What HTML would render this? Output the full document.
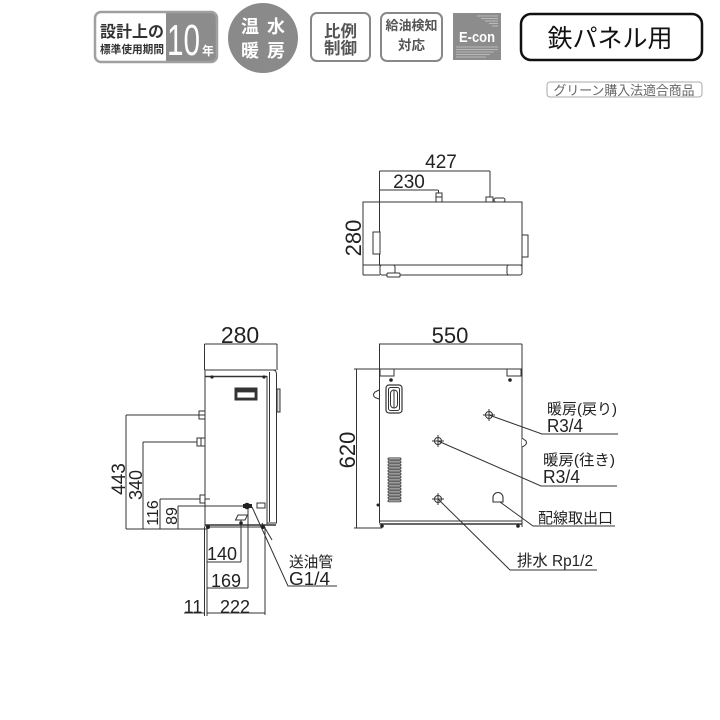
<!DOCTYPE html>
<html><head><meta charset="utf-8"><style>
html,body{margin:0;padding:0;background:#fff;}
svg{display:block;}
text{font-family:"Liberation Sans","Noto Sans CJK JP",sans-serif;}
</style></head><body>
<svg width="720" height="720" viewBox="0 0 720 720" xmlns="http://www.w3.org/2000/svg">
<defs>
<clipPath id="b1"><rect x="95" y="12" width="122" height="50" rx="6"/></clipPath>
</defs>
<rect width="720" height="720" fill="#fff"/>

<!-- ===== header badges ===== -->
<g clip-path="url(#b1)">
<rect x="95" y="12" width="122" height="50" fill="#fff"/>
<rect x="166" y="12" width="52" height="50" fill="#8c8c8c"/>
</g>
<rect x="95" y="12" width="122" height="50" rx="6" fill="none" stroke="#a0a0a0" stroke-width="2.5"/>
<text x="132" y="37" font-size="16" font-weight="bold" fill="#333" text-anchor="middle" textLength="64" lengthAdjust="spacingAndGlyphs">設計上の</text>
<text x="132" y="53" font-size="11" font-weight="bold" fill="#333" text-anchor="middle" textLength="64" lengthAdjust="spacingAndGlyphs">標準使用期間</text>
<text x="167" y="55" font-size="44" fill="#fff" textLength="33" lengthAdjust="spacingAndGlyphs">10</text>
<text x="202" y="55" font-size="12" fill="#fff" font-weight="bold">年</text>

<circle cx="263" cy="38" r="35" fill="#8a8a8a"/>
<text x="250" y="33" font-size="18" font-weight="bold" fill="#fff" text-anchor="middle">温</text>
<text x="276" y="33" font-size="18" font-weight="bold" fill="#fff" text-anchor="middle">水</text>
<text x="250" y="57" font-size="18" font-weight="bold" fill="#fff" text-anchor="middle">暖</text>
<text x="276" y="57" font-size="18" font-weight="bold" fill="#fff" text-anchor="middle">房</text>

<rect x="311" y="13" width="59" height="48" rx="6" fill="#fff" stroke="#888" stroke-width="2"/>
<text x="340.5" y="37" font-size="16.5" font-weight="bold" fill="#555" text-anchor="middle">比例</text>
<text x="340.5" y="54" font-size="16.5" font-weight="bold" fill="#555" text-anchor="middle">制御</text>

<rect x="381" y="13" width="61" height="48" rx="6" fill="#fff" stroke="#888" stroke-width="2"/>
<text x="411.5" y="30" font-size="13" font-weight="bold" fill="#555" text-anchor="middle" textLength="52" lengthAdjust="spacingAndGlyphs">給油検知</text>
<text x="411.5" y="50" font-size="13.5" font-weight="bold" fill="#555" text-anchor="middle">対応</text>

<rect x="453" y="13" width="48" height="47" fill="#8c8c8c"/>
<g stroke="#c9c9c9" stroke-width="0.8">
<line x1="477" y1="16" x2="498" y2="16"/><line x1="481" y1="18.5" x2="498" y2="18.5"/>
<line x1="485" y1="21" x2="498" y2="21"/><line x1="489" y1="23.5" x2="498" y2="23.5"/>
<line x1="492" y1="26" x2="498" y2="26"/>
<line x1="456" y1="47" x2="498" y2="47"/><line x1="456" y1="49.5" x2="498" y2="49.5"/>
<line x1="456" y1="52" x2="494" y2="52"/><line x1="456" y1="54.5" x2="490" y2="54.5"/>
<line x1="456" y1="57" x2="486" y2="57"/>
</g>
<text x="477" y="42" font-size="15" font-weight="bold" fill="#fff" text-anchor="middle" textLength="36" lengthAdjust="spacingAndGlyphs">E-con</text>

<rect x="521" y="14" width="181" height="46" rx="10" fill="#fff" stroke="#111" stroke-width="2.5"/>
<text x="610" y="47" font-size="25" fill="#111" text-anchor="middle">鉄パネル用</text>

<rect x="547" y="82" width="155" height="15" rx="3" fill="#fff" stroke="#aaa" stroke-width="1"/>
<text x="624" y="95" font-size="13" fill="#666" text-anchor="middle" textLength="141" lengthAdjust="spacingAndGlyphs">グリーン購入法適合商品</text>

<!-- ===== top view ===== -->
<g stroke="#333" stroke-width="1" fill="none">
<line x1="379.5" y1="171" x2="490" y2="171"/>
<line x1="379.5" y1="190" x2="438" y2="190"/>
<line x1="379.5" y1="171" x2="379.5" y2="265"/>
<line x1="490" y1="171" x2="490" y2="197"/>
<line x1="438.5" y1="190" x2="438.5" y2="207"/>
<rect x="363" y="202" width="159" height="63" fill="#fff"/>
<line x1="379.5" y1="202" x2="379.5" y2="265"/>
<line x1="363" y1="265" x2="363" y2="275"/>
<line x1="363" y1="275" x2="380" y2="275"/>
<rect x="373" y="232" width="7" height="22" fill="#fff"/>
<rect x="522" y="235" width="6" height="22" fill="#fff"/>
<path d="M380,265 L522,265 L522,269 Q522,275 516,275 L386,275 Q380,275 380,269 Z" fill="#fff"/>
<rect x="380" y="265" width="15" height="10" rx="2" fill="#fff"/>
<rect x="507" y="265" width="15" height="10" rx="2" fill="#fff"/>
<rect x="387" y="273" width="13" height="4" rx="1" fill="#fff"/>
<rect x="436" y="193" width="6" height="9" fill="#fff"/>
<line x1="436" y1="197" x2="442" y2="197"/>
<rect x="486" y="197" width="7" height="5" fill="#fff"/>
<rect x="494" y="198" width="11" height="4" rx="2" fill="#fff"/>
</g>
<text x="441" y="168" font-size="19" fill="#222" text-anchor="middle">427</text>
<text x="409" y="188" font-size="19" fill="#222" text-anchor="middle">230</text>
<text transform="translate(361,238) rotate(-90)" font-size="22" fill="#222" text-anchor="middle">280</text>

<!-- ===== side view ===== -->
<g stroke="#333" stroke-width="1" fill="none">
<line x1="204.5" y1="344" x2="277" y2="344"/>
<line x1="204.5" y1="344" x2="204.5" y2="370"/>
<line x1="277" y1="344" x2="277" y2="370"/>
<line x1="205" y1="370" x2="276" y2="370"/>
<line x1="205" y1="376.5" x2="267" y2="376.5" stroke-width="1.6"/>
<line x1="205" y1="370" x2="205" y2="527"/>
<line x1="267" y1="376" x2="267" y2="524"/>
<path d="M267,370 L273,370 Q276.5,370 276.5,374 L276.5,523 L267,523"/>
<line x1="269.5" y1="372" x2="269.5" y2="522"/>
<rect x="277" y="389" width="3" height="23" fill="#ddd"/>
<line x1="205" y1="525" x2="276" y2="525" stroke-width="1.6"/>
<!-- handle -->
<rect x="235" y="388" width="22" height="12" fill="#333"/>
<rect x="237" y="392" width="18" height="6" fill="#fff" stroke-width="0.8"/>
<!-- left fittings -->
<rect x="199" y="411" width="6" height="8" fill="#fff"/>
<line x1="199" y1="415" x2="205" y2="415"/>
<rect x="197" y="438" width="8" height="8" fill="#fff"/>
<line x1="201" y1="438" x2="201" y2="446"/>
<rect x="200" y="495" width="5" height="8" fill="#fff"/>
<line x1="205" y1="499" x2="210" y2="499"/>
<!-- dim lines left -->
<line x1="126" y1="415" x2="199" y2="415"/>
<line x1="143" y1="442" x2="197" y2="442"/>
<line x1="160" y1="499" x2="200" y2="499"/>
<line x1="178" y1="506" x2="244" y2="506"/>
<line x1="126" y1="415" x2="126" y2="529"/>
<line x1="143" y1="442" x2="143" y2="529"/>
<line x1="160" y1="499" x2="160" y2="529"/>
<line x1="178" y1="506" x2="178" y2="529"/>
<line x1="126" y1="529" x2="207" y2="529"/>
<line x1="207" y1="527" x2="265" y2="527"/>
<!-- oil pipe -->
<rect x="257" y="503" width="8" height="5" fill="#fff"/>
<path d="M235.5,520 L238,515 L247.5,515 L245,520 Z" fill="#fff"/>
<!-- bottom dims -->
<line x1="204.5" y1="527" x2="204.5" y2="616"/>
<line x1="207" y1="527" x2="207" y2="616"/>
<line x1="241" y1="520" x2="241" y2="562"/>
<line x1="248" y1="508" x2="248" y2="588"/>
<line x1="265" y1="527" x2="265" y2="615"/>
<line x1="207" y1="562" x2="241" y2="562"/>
<line x1="207" y1="588" x2="248" y2="588"/>
<line x1="207" y1="613" x2="265" y2="613"/>
<line x1="184" y1="613" x2="204.5" y2="613"/>
<!-- leader -->
<polyline points="252,507 288,586 337,586"/>
<line x1="262" y1="523" x2="272" y2="540"/>
</g>
<g fill="#222">
<circle cx="212" cy="377" r="1.6"/><circle cx="264" cy="377" r="1.6"/>
<circle cx="247" cy="506" r="3.2"/><rect x="243" y="504" width="9" height="4"/>
<circle cx="241" cy="523" r="1.8"/>
<circle cx="208" cy="527" r="2"/><circle cx="263" cy="527" r="2"/>
</g>
<text x="240" y="343" font-size="23" fill="#222" text-anchor="middle">280</text>
<text transform="translate(125,479) rotate(-90)" font-size="19" fill="#222" text-anchor="middle">443</text>
<text transform="translate(142,485) rotate(-90)" font-size="18" fill="#222" text-anchor="middle">340</text>
<text transform="translate(158,513) rotate(-90)" font-size="16" fill="#222" text-anchor="middle">116</text>
<text transform="translate(177,516) rotate(-90)" font-size="16" fill="#222" text-anchor="middle">89</text>
<text x="222" y="560" font-size="18" fill="#222" text-anchor="middle">140</text>
<text x="226" y="587" font-size="18" fill="#222" text-anchor="middle">169</text>
<text x="235" y="613" font-size="18" fill="#222" text-anchor="middle">222</text>
<text x="193" y="613" font-size="18" fill="#222" text-anchor="middle">11</text>
<text x="289" y="567" font-size="15" fill="#222" textLength="44" lengthAdjust="spacingAndGlyphs">送油管</text>
<text x="289" y="585" font-size="18" fill="#222" textLength="41" lengthAdjust="spacingAndGlyphs">G1/4</text>

<!-- ===== front view ===== -->
<g stroke="#333" stroke-width="1" fill="none">
<line x1="379" y1="344" x2="522" y2="344"/>
<line x1="379.5" y1="344" x2="379.5" y2="523"/>
<line x1="522" y1="344" x2="522" y2="527"/>
<line x1="354" y1="369" x2="522" y2="369"/>
<line x1="356.5" y1="369" x2="356.5" y2="528"/>
<line x1="354" y1="528" x2="382" y2="528"/>
<rect x="380" y="369" width="14" height="7" fill="#fff"/>
<rect x="507" y="369" width="14" height="7" fill="#fff"/>
<line x1="379.5" y1="521" x2="522" y2="521"/>
<line x1="379.5" y1="524" x2="522" y2="524" stroke-width="1.6"/>
<path d="M379,390 L375,392 Q372,395 375,397.5 L379,399" fill="#fff"/>
<path d="M522,438 L526,441 Q527.5,444 524,446 L522,447" fill="#fff"/>
<rect x="386" y="385" width="16" height="28" rx="3" stroke-width="1.2"/>
<rect x="388.5" y="387.5" width="11" height="23" rx="2"/>
<rect x="390.5" y="390" width="7" height="18" rx="3.5"/>
<line x1="394" y1="390" x2="394" y2="408"/>
<g stroke-width="0.9">
<rect x="388" y="458" width="13" height="1.8" rx="0.9"/>
<rect x="388" y="461" width="13" height="1.8" rx="0.9"/>
<rect x="388" y="464" width="13" height="1.8" rx="0.9"/>
<rect x="388" y="467" width="13" height="1.8" rx="0.9"/>
<rect x="388" y="470" width="13" height="1.8" rx="0.9"/>
<rect x="388" y="473" width="13" height="1.8" rx="0.9"/>
<rect x="388" y="476" width="13" height="1.8" rx="0.9"/>
<rect x="388" y="479" width="13" height="1.8" rx="0.9"/>
<rect x="388" y="482" width="13" height="1.8" rx="0.9"/>
<rect x="388" y="485" width="13" height="1.8" rx="0.9"/>
<rect x="388" y="488" width="13" height="1.8" rx="0.9"/>
<rect x="388" y="491" width="13" height="1.8" rx="0.9"/>
<rect x="388" y="494" width="13" height="1.8" rx="0.9"/>
<rect x="388" y="497" width="13" height="1.8" rx="0.9"/>
<rect x="388" y="500" width="13" height="1.8" rx="0.9"/>
</g>
<!-- ports -->
<circle cx="489" cy="415" r="3.5"/>
<line x1="483" y1="415" x2="495" y2="415"/><line x1="489" y1="409" x2="489" y2="421"/>
<circle cx="438" cy="441" r="3.5"/>
<line x1="432" y1="441" x2="444" y2="441"/><line x1="438" y1="435" x2="438" y2="447"/>
<circle cx="438" cy="499" r="3.5"/>
<line x1="432" y1="499" x2="444" y2="499"/><line x1="438" y1="493" x2="438" y2="505"/>
<path d="M493,502 L503,502 L503,497.5 A5,5 0 0 0 493,497.5 Z" stroke-width="1.1"/>
<!-- leaders -->
<polyline points="489,415 542,434 618,434"/>
<polyline points="438,441 541,486 617,486"/>
<polyline points="500,502 533,526 615,526"/>
<polyline points="438,499 510,570 597,570"/>
</g>
<g fill="#222">
<circle cx="391" cy="380" r="1.8"/><circle cx="510" cy="380" r="1.8"/>
<circle cx="378" cy="505" r="1.5"/>
<circle cx="382" cy="526" r="1.8"/><circle cx="518" cy="526" r="1.8"/>
</g>
<text x="450" y="343" font-size="22" fill="#222" text-anchor="middle">550</text>
<text transform="translate(355,450) rotate(-90)" font-size="22" fill="#222" text-anchor="middle">620</text>
<text x="547" y="414" font-size="15" fill="#222" textLength="70" lengthAdjust="spacingAndGlyphs">暖房(戻り)</text>
<text x="547" y="432" font-size="18" fill="#222" textLength="36" lengthAdjust="spacingAndGlyphs">R3/4</text>
<text x="543" y="465" font-size="15" fill="#222" textLength="72" lengthAdjust="spacingAndGlyphs">暖房(往き)</text>
<text x="543" y="483" font-size="18" fill="#222" textLength="37" lengthAdjust="spacingAndGlyphs">R3/4</text>
<text x="538" y="523" font-size="15" fill="#222" textLength="75" lengthAdjust="spacingAndGlyphs">配線取出口</text>
<text x="517" y="566" font-size="16" fill="#222" textLength="76" lengthAdjust="spacingAndGlyphs">排水 Rp1/2</text>
</svg>
</body></html>
